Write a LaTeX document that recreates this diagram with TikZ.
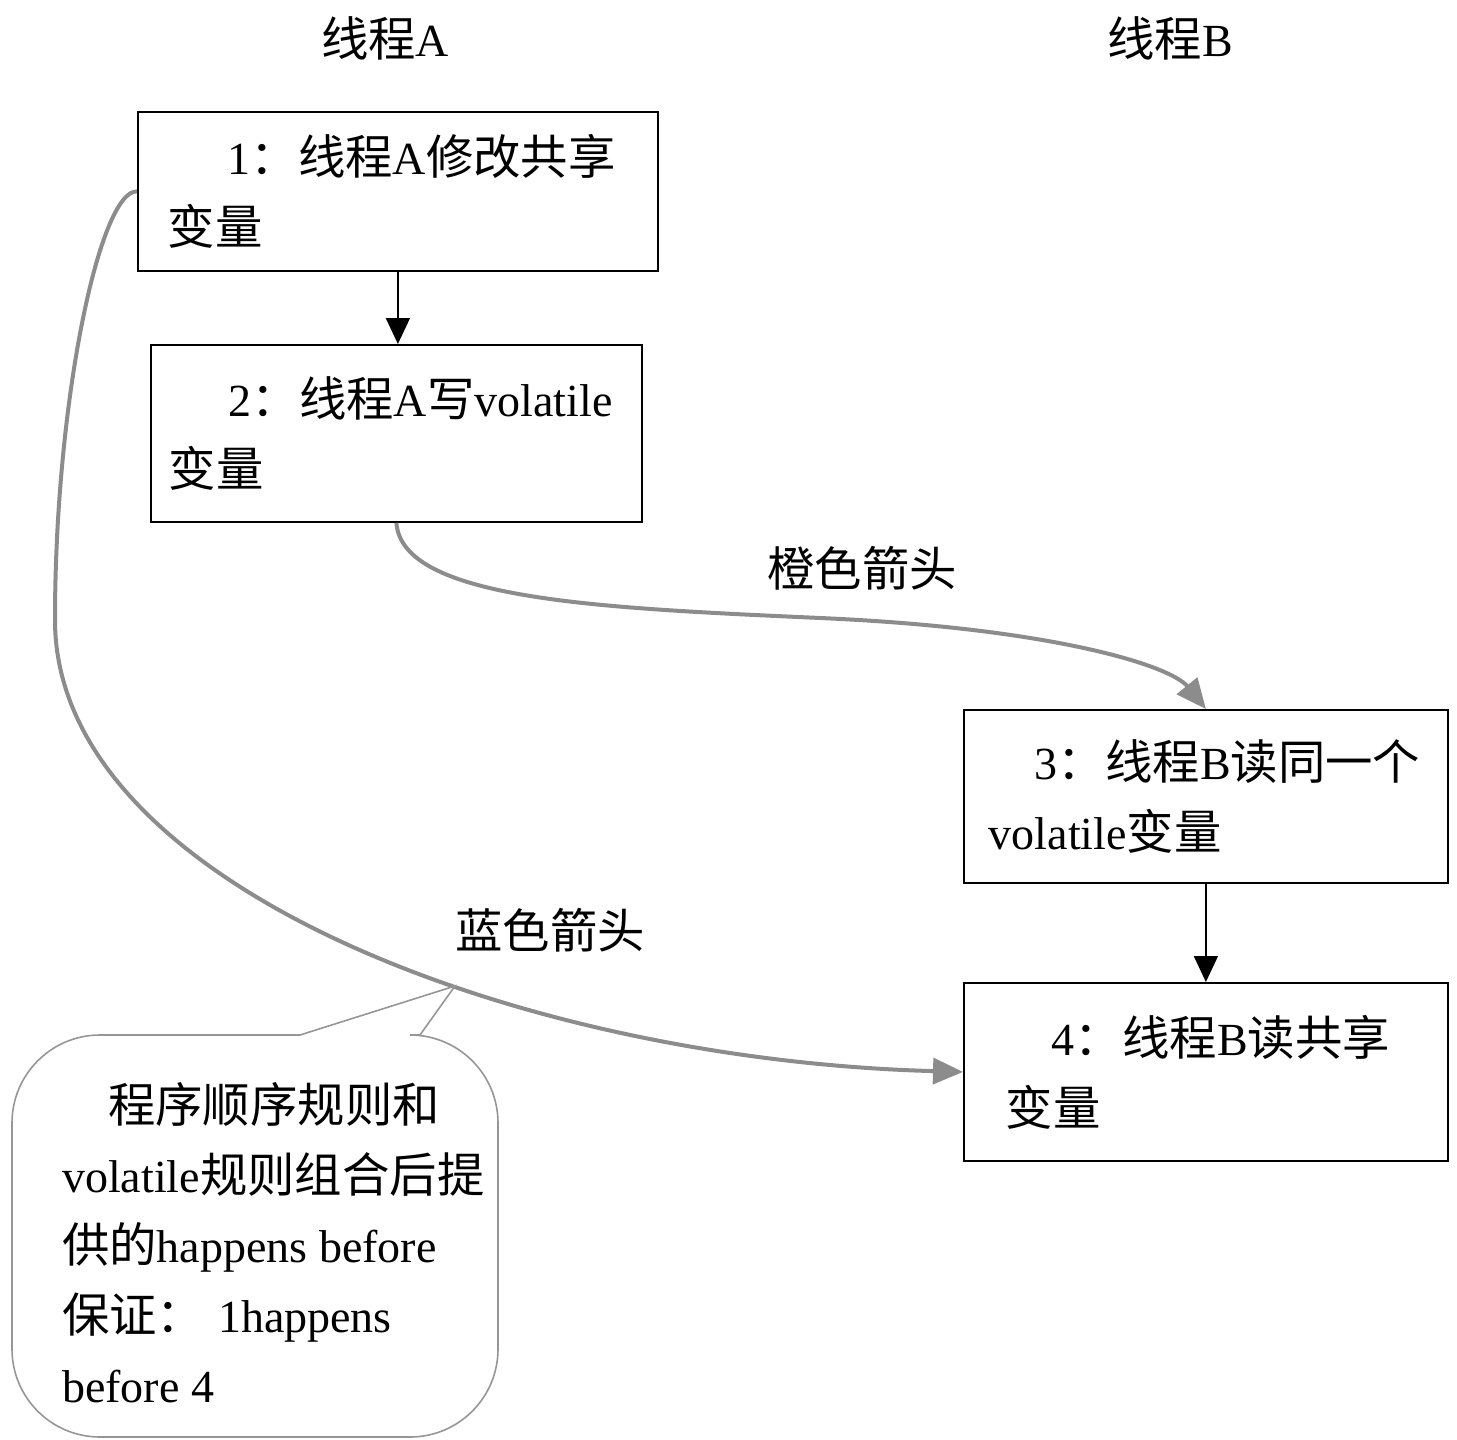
\documentclass[tikz,border=0pt]{standalone}
\usepackage{fontspec}
\setmainfont{Liberation Serif}
\newfontfamily\cjk[Scale=1.03]{Noto Sans CJK SC}
\usetikzlibrary{arrows.meta}
\newcommand\zh[1]{{\cjk #1}}
\definecolor{arrowgray}{RGB}{140,140,140}
\definecolor{calloutgray}{RGB}{150,150,150}
\begin{document}
\begin{tikzpicture}[x=1pt,y=-1pt,
  every node/.style={font=\fontsize{46}{70}\selectfont, inner sep=0pt},
  box/.style={draw=black, line width=1.8pt, align=left, anchor=north west},
  flow/.style={draw=black, line width=1.8pt, -{Triangle[length=26pt,width=24pt]}},
  grayarrow/.style={draw=arrowgray, line width=4pt, -{Triangle[length=30pt,width=26pt]}},
  callout/.style={draw=calloutgray, line width=1.6pt}
]
\useasboundingbox (0,0) rectangle (1457,1440);

% headers
\node (hA) at (385,38) {\zh{线程}A};
\node (hB) at (1170,38) {\zh{线程}B};

% boxes
\node[box, minimum width=520, minimum height=159, text width=460] (b1) at (137,111)
  {\hspace*{1.3em}1\zh{：线程}A\zh{修改共享}\\\zh{变量}};
\node[box, minimum width=491, minimum height=177, text width=455] (b2) at (150,344)
  {\hspace*{1.3em}2\zh{：线程}A\zh{写}volatile\\\zh{变量}};
\node[box, minimum width=484, minimum height=173, text width=434] (b3) at (963,709)
  {\hspace*{1em}3\zh{：线程}B\zh{读同一个}\\volatile\zh{变量}};
\node[box, minimum width=484, minimum height=178, text width=400] (b4) at (963,982)
  {\hspace*{1em}4\zh{：线程}B\zh{读共享}\\\zh{变量}};

% black arrows
\draw[flow] (b1.south) -- (b1.south |- b2.north);
\draw[flow] (b3.south) -- (b4.north);

% gray curved arrows
\draw[grayarrow] (b2.south) .. controls (402,600) and (600,608) .. (820,618)
  .. controls (1050,628) and (1170,665) .. (b3.north);
\draw[grayarrow] (b1.west) .. controls (100,190) and (55,400) .. (55,620)
  .. controls (55,885) and (520,1060) .. (b4.west);

\node (lo) at (862,568) {\zh{橙色箭头}};
\node (lb) at (550,930) {\zh{蓝色箭头}};

% callout
\coordinate (tip) at (455,986);
\draw[callout, rounded corners=88pt] (300,1035) -- (12,1035) -- (12,1437) -- (498,1437) -- (498,1035) -- (420,1035);
\draw[callout, line join=miter] (420,1035) -- (tip) -- (300,1035);
\node[anchor=north west, align=left] (ct) at (62,1082)
  {\hspace*{1em}\zh{程序顺序规则和}\\volatile\zh{规则组合后提}\\\zh{供的}happens~before\\\zh{保证：}\hspace{0.3em}1happens\\before~4};
\end{tikzpicture}
\end{document}
